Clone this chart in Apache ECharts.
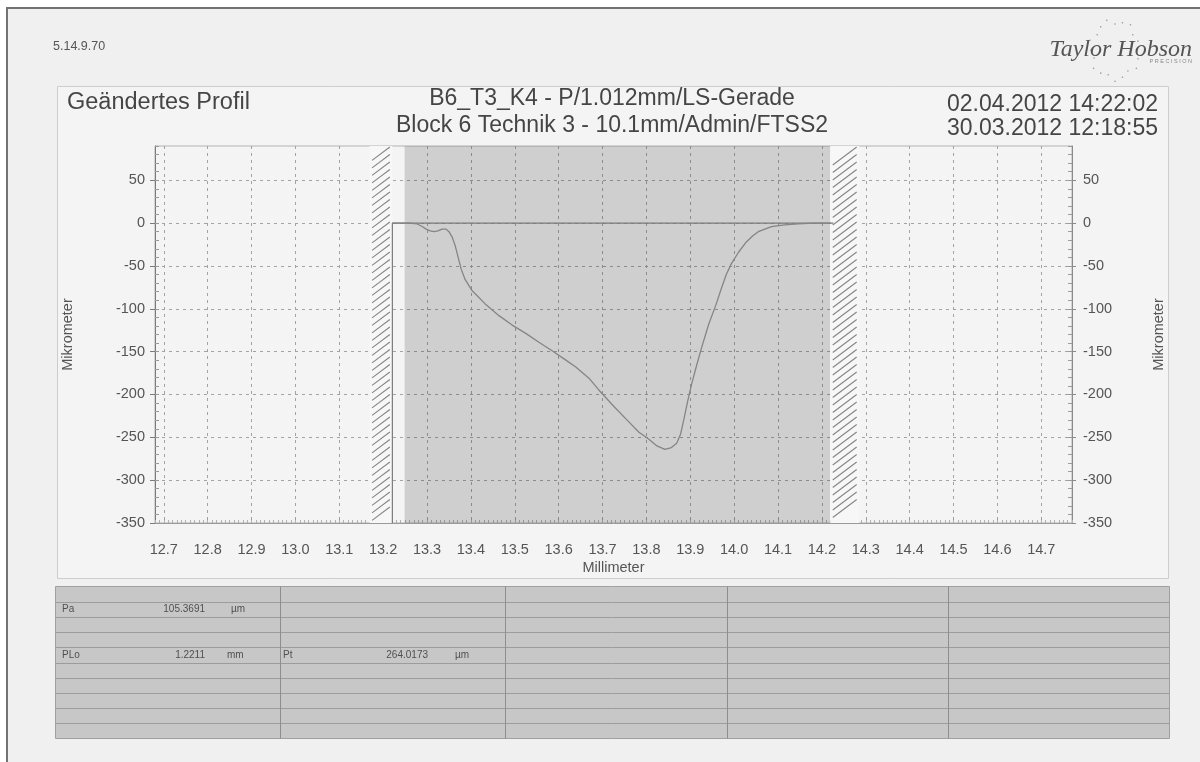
<!DOCTYPE html>
<html lang="de">
<head>
<meta charset="utf-8">
<title>Geändertes Profil</title>
<script src="https://cdn.jsdelivr.net/npm/echarts@6.0.0/dist/echarts.min.js"></script>
<style>
  html, body { margin: 0; padding: 0; background: #ffffff; }
  #chart { width: 1200px; height: 762px; }
</style>
</head>
<body>
<div id="chart"></div>
<script>
// ---- Messdaten ----------------------------------------------------------
// Profilverlauf: Position (mm) und Höhe (µm)
const profileMm = [13.221, 13.259, 13.278, 13.289, 13.298, 13.307, 13.316, 13.325, 13.334, 13.343,
  13.350, 13.357, 13.364, 13.371, 13.378, 13.387, 13.403, 13.432, 13.464, 13.494,
  13.526, 13.555, 13.585, 13.614, 13.639, 13.669, 13.692, 13.726, 13.760, 13.783,
  13.805, 13.824, 13.842, 13.857, 13.869, 13.878, 13.885, 13.894, 13.903, 13.915,
  13.926, 13.942, 13.958, 13.971, 13.982, 13.994, 14.010, 14.026, 14.042, 14.055,
  14.085, 14.115, 14.146, 14.180, 14.221];
const profileUm = [0, 0, -1, -4, -7, -9, -10, -9, -7, -7,
  -10, -16, -26, -40, -54, -66, -79, -94, -108, -119,
  -129, -139, -149, -159, -168, -181, -195, -214, -232, -244,
  -252, -260, -264.0173, -262, -257, -246, -230, -208, -188, -165,
  -145, -118, -96, -76, -60, -47, -34, -23, -15, -10,
  -4, -2, -1, 0, 0];
// LS-Gerade mit linkem Rand des ausgewerteten Profils
const refLineMm = [13.221, 13.221, 14.226];
const refLineUm = [-350, 0, 0];
// Auswertebereich und ausgeblendete Randzonen (mm)
const zoneStart = [13.169, 13.249, 14.219];
const zoneEnd   = [13.221, 14.219, 14.285];
const zoneHatched = [1, 0, 1];
// Achsenteilung
const xTickValues = [12.7, 12.8, 12.9, 13.0, 13.1, 13.2, 13.3, 13.4, 13.5, 13.6, 13.7,
  13.8, 13.9, 14.0, 14.1, 14.2, 14.3, 14.4, 14.5, 14.6, 14.7];
const yTickValues = [-350, -300, -250, -200, -150, -100, -50, 0, 50];
// Kopfzeilen
const docId = '5.14.9.70';
const headerLeft = 'Geändertes Profil';
const headerCenter = ['B6_T3_K4 - P/1.012mm/LS-Gerade', 'Block 6 Technik 3 - 10.1mm/Admin/FTSS2'];
const headerRight = ['02.04.2012 14:22:02', '30.03.2012 12:18:55'];
// Kenngrößen
const paramNames = ['Pa', 'PLo', 'Pt'];
const paramValues = ['105.3691', '1.2211', '264.0173'];
const paramUnits = ['µm', 'mm', 'µm'];

// ---- Darstellung --------------------------------------------------------
const FONT = '"Liberation Sans", Arial, Helvetica, sans-serif';
const X_MIN = 12.68, X_MAX = 14.77;
const Y_MIN = -350, Y_MAX = 90;

const profile = profileMm.map((x, i) => [x, profileUm[i]]);
const refLine = refLineMm.map((x, i) => [x, refLineUm[i]]);
const zones = zoneStart.map((s, i) => [s, zoneEnd[i], zoneHatched[i]]);

// Auswertefenster grau hinterlegt, Randzonen schraffiert
function renderZone(params, api) {
  const a = api.coord([api.value(0), Y_MAX]);
  const b = api.coord([api.value(1), Y_MIN]);
  const r = { x: a[0], y: a[1], width: b[0] - a[0], height: b[1] - a[1] };
  if (api.value(2) !== 1) {
    return { type: 'rect', shape: r, style: { fill: 'rgba(40,40,40,0.18)' } };
  }
  const kids = [{ type: 'rect', shape: r, style: { fill: '#f7f7f7' } }];
  const pad = 2.5, w = r.width - 2 * pad, rise = w * 0.75, step = 7.5;
  for (let y = r.y + rise + 1; y <= r.y + r.height - 1; y += step) {
    kids.push({ type: 'line', shape: { x1: r.x + pad, y1: y, x2: r.x + pad + w, y2: y - rise },
      style: { stroke: '#858585', lineWidth: 1.1 } });
  }
  return { type: 'group', children: kids };
}

const labelStyle = { color: '#555555', fontSize: 14.5, fontFamily: FONT };
const nameStyle = { color: '#555555', fontSize: 14.5, fontFamily: FONT };
const gridLine = { show: true, lineStyle: { color: '#a3a3a3', width: 1, type: [3, 4] } };

// ---- Blatt, Kopf, Logo, Tabelle ------------------------------------------
const graphics = [];
graphics.push({ type: 'rect', z: -30, silent: true, shape: { x: 7, y: 8, width: 1193, height: 754 }, style: { fill: '#f0f0f0' } });
graphics.push({ type: 'polyline', z: -29, silent: true, shape: { points: [[7, 762], [7, 8], [1200, 8]] }, style: { stroke: '#727272', lineWidth: 2, fill: null } });
graphics.push({ type: 'rect', z: -28, silent: true, shape: { x: 57.5, y: 86.5, width: 1111, height: 492 }, style: { fill: '#f4f4f4', stroke: '#cdcdcd', lineWidth: 1 } });

function txt(text, x, y, size, align, color, extra) {
  return Object.assign({ type: 'text', z: 10, silent: true, x: x, y: y,
    style: { text: text, fill: color || '#454545', fontSize: size, fontFamily: FONT,
      textAlign: align || 'left', textVerticalAlign: 'middle' } }, extra || {});
}
graphics.push(txt(docId, 53, 47, 12.5, 'left', '#555'));
graphics.push(txt(headerLeft, 67, 103, 23.5, 'left'));
graphics.push(txt(headerCenter[0], 612, 99, 23, 'center'));
graphics.push(txt(headerCenter[1], 612, 126, 23, 'center'));
graphics.push(txt(headerRight[0], 1158, 105, 23, 'right'));
graphics.push(txt(headerRight[1], 1158, 129, 23, 'right'));

// Firmenlogo mit Punktkranz
const ring = [];
for (let k = 0; k < 20; k++) {
  const ang = k / 20 * Math.PI * 2;
  const f = 1 + (k % 3) * 0.1;
  ring.push({ type: 'circle', shape: { cx: 1115 + Math.cos(ang) * 22 * f, cy: 50 + Math.sin(ang) * 26 * f, r: 0.8 }, style: { fill: '#9a9a9a' } });
}
graphics.push({ type: 'group', z: 9, silent: true, children: ring });
graphics.push({ type: 'text', z: 10, silent: true, x: 1192, y: 50,
  style: { text: 'Taylor Hobson', fill: '#555555', fontSize: 24, fontStyle: 'italic',
    fontFamily: '"Liberation Serif", "DejaVu Serif", serif', textAlign: 'right', textVerticalAlign: 'middle' } });
graphics.push(txt('P R E C I S I O N', 1192, 61, 5.5, 'right', '#888'));

// Kenngrößentabelle
const T = { x: 55.5, y: 586.5, w: 1114, rowH: 15.2, rows: 10, cols: [280.5, 505.5, 727.5, 948.5] };
const tbl = [{ type: 'rect', shape: { x: T.x, y: T.y, width: T.w, height: T.rowH * T.rows },
  style: { fill: '#c7c7c7', stroke: '#a0a0a0', lineWidth: 1 } }];
for (let i = 1; i < T.rows; i++) {
  const y = Math.round(T.y + T.rowH * i) + 0.5;
  tbl.push({ type: 'line', shape: { x1: T.x, y1: y, x2: T.x + T.w, y2: y }, style: { stroke: '#9c9c9c', lineWidth: 1 } });
}
T.cols.forEach(cx => tbl.push({ type: 'line', shape: { x1: cx, y1: T.y, x2: cx, y2: T.y + T.rowH * T.rows }, style: { stroke: '#8e8e8e', lineWidth: 1 } }));
graphics.push({ type: 'group', z: -20, silent: true, children: tbl });
const rowMid = r => T.y + T.rowH * (r + 0.5);
const cellPos = [ // [Zeile, Name-x, Wert-x (rechtsbündig), Einheit-x]
  [1, 62, 205, 231],
  [4, 62, 205, 227],
  [4, 283, 428, 455]
];
paramNames.forEach((n, i) => {
  const p = cellPos[i];
  graphics.push(txt(n, p[1], rowMid(p[0]), 10, 'left', '#505050'));
  graphics.push(txt(paramValues[i], p[2], rowMid(p[0]), 10, 'right', '#505050'));
  graphics.push(txt(paramUnits[i], p[3], rowMid(p[0]), 10, 'left', '#505050'));
});

const chart = echarts.init(document.getElementById('chart'), null, { renderer: 'canvas' });
chart.setOption({
  animation: false,
  backgroundColor: '#ffffff',
  graphic: { elements: graphics },
  grid: { left: 155, right: 128, top: 146, bottom: 239, show: true, borderColor: '#b3b3b3', borderWidth: 1,
    backgroundColor: 'transparent', containLabel: false, outerBoundsMode: 'none' },
  xAxis: [
    { type: 'value', min: X_MIN, max: X_MAX, position: 'bottom',
      name: 'Millimeter', nameLocation: 'middle', nameGap: 37, nameTextStyle: nameStyle, nameMoveOverlap: false,
      axisLine: { show: true, onZero: false, lineStyle: { color: '#9a9a9a' } },
      axisTick: { show: true, inside: true, length: 5, customValues: xTickValues, lineStyle: { color: '#9a9a9a' } },
      axisLabel: Object.assign({ customValues: xTickValues, margin: 19, formatter: v => Number(v).toFixed(1),
        showMinLabel: true, showMaxLabel: true, hideOverlap: false }, labelStyle),
      splitLine: gridLine },
    { type: 'value', min: X_MIN, max: X_MAX, interval: 0.01, position: 'bottom', gridIndex: 0,
      axisLine: { show: false, onZero: false },
      axisTick: { show: true, inside: true, length: 3, lineStyle: { color: '#b0b0b0' } },
      axisLabel: { show: false }, splitLine: { show: false } }
  ],
  yAxis: [
    { type: 'value', min: Y_MIN, max: Y_MAX, position: 'left',
      name: 'Mikrometer', nameLocation: 'middle', nameGap: 80, nameRotate: 90, nameTextStyle: nameStyle, nameMoveOverlap: false,
      axisLine: { show: true, onZero: false, lineStyle: { color: '#7a7a7a' } },
      axisTick: { show: true, inside: false, length: 5, customValues: yTickValues, lineStyle: { color: '#7a7a7a' } },
      axisLabel: Object.assign({ customValues: yTickValues, margin: 10 }, labelStyle),
      splitLine: gridLine },
    { type: 'value', min: Y_MIN, max: Y_MAX, position: 'right',
      name: 'Mikrometer', nameLocation: 'middle', nameGap: 79, nameRotate: 90, nameTextStyle: nameStyle, nameMoveOverlap: false,
      axisLine: { show: true, onZero: false, lineStyle: { color: '#8a8a8a' } },
      axisTick: { show: true, inside: false, length: 4, customValues: yTickValues, lineStyle: { color: '#8a8a8a' } },
      axisLabel: Object.assign({ customValues: yTickValues, margin: 11 }, labelStyle),
      splitLine: { show: false } },
    { type: 'value', min: Y_MIN, max: Y_MAX, interval: 10, position: 'left',
      axisLine: { show: false, onZero: false },
      axisTick: { show: true, inside: true, length: 4, lineStyle: { color: '#9a9a9a' } },
      axisLabel: { show: false }, splitLine: { show: false } },
    { type: 'value', min: Y_MIN, max: Y_MAX, interval: 10, position: 'right',
      axisLine: { show: false, onZero: false },
      axisTick: { show: true, inside: true, length: 4, lineStyle: { color: '#9a9a9a' } },
      axisLabel: { show: false }, splitLine: { show: false } }
  ],
  series: [
    { type: 'custom', xAxisIndex: 0, yAxisIndex: 0, z: 1, silent: true,
      renderItem: renderZone, data: zones, encode: { x: [0, 1] } },
    { type: 'line', xAxisIndex: 0, yAxisIndex: 0, z: 3, silent: true, data: refLine,
      showSymbol: false, symbol: 'none', lineStyle: { color: '#7b7b7b', width: 1.2 } },
    { type: 'line', xAxisIndex: 0, yAxisIndex: 0, z: 4, silent: true, data: profile,
      showSymbol: false, symbol: 'none', lineStyle: { color: '#858585', width: 1.3 } }
  ]
});
</script>
</body>
</html>
